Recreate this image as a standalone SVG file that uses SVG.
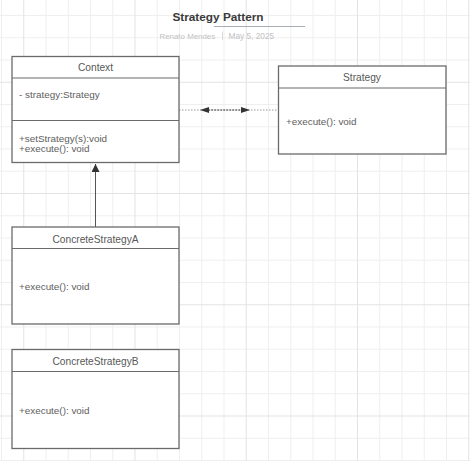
<svg xmlns="http://www.w3.org/2000/svg" width="470" height="461" viewBox="0 0 470 461">
<defs>
<style>
.grid{stroke:#efefef;stroke-width:1;fill:none}
.gridM{stroke:#e3e3e3;stroke-width:1;fill:none}
.box{fill:#fff;stroke:#6b6b6b;stroke-width:1.3}
.div{stroke:#6b6b6b;stroke-width:1.2}
.ttl{font-family:"Liberation Sans",Arial,sans-serif;font-size:10.2px;fill:#585858;text-anchor:middle}
.mem{font-family:"Liberation Sans",Arial,sans-serif;font-size:9.9px;fill:#5e5e5e}
.conn{stroke:#555;stroke-width:1;fill:none}
</style>
<marker id="tri" viewBox="0 0 10 10" refX="10" refY="5" markerWidth="8" markerHeight="8" markerUnits="userSpaceOnUse" orient="auto">
<path d="M0,0 L10,5 L0,10 Z" fill="#333"/>
</marker>
</defs>
<rect width="470" height="461" fill="#fff"/>
<g id="grid">
<path class="grid" d="M1.5,0V461M46,0V461M68.25,0V461M90.5,0V461M112.75,0V461M157.25,0V461M179.5,0V461M201.75,0V461M224,0V461M268.5,0V461M290.75,0V461M313,0V461M335.25,0V461M379.75,0V461M402,0V461M424.25,0V461M446.5,0V461M0,15.5H470M0,37.75H470M0,60H470M0,104.5H470M0,126.75H470M0,149H470M0,171.25H470M0,215.75H470M0,238H470M0,260.25H470M0,282.5H470M0,327H470M0,349.25H470M0,371.5H470M0,393.75H470M0,438.25H470M0,460.5H470"/>
<path class="gridM" d="M23.75,0V461M135,0V461M246.25,0V461M357.5,0V461M468.75,0V461M0,82.25H470M0,193.5H470M0,304.75H470M0,416H470"/>
</g>
<g id="title">
<text x="218" y="21" font-family="'Liberation Sans',Arial,sans-serif" font-size="11.8" font-weight="bold" fill="#3a3a3a" text-anchor="middle">Strategy Pattern</text>
<line x1="214" y1="26.5" x2="305" y2="26.5" stroke="#a8acb4" stroke-width="1"/>
<text x="159.5" y="38.5" font-family="'Liberation Sans',Arial,sans-serif" font-size="7.9" fill="#c2c2c2">Renato Mendes</text>
<line x1="222.5" y1="31.5" x2="222.5" y2="40" stroke="#d0d0d0" stroke-width="0.8"/>
<text x="228.5" y="38.5" font-family="'Liberation Sans',Arial,sans-serif" font-size="8.3" fill="#c2c2c2">May 5, 2025</text>
</g>
<g id="connectors">
<line x1="179" y1="110" x2="278" y2="110" stroke="#999" stroke-width="1" stroke-dasharray="1.5,1.5"/>
<line x1="208" y1="110" x2="242" y2="110" stroke="#555" stroke-width="1" stroke-dasharray="2,1"/>
<path d="M200,110 L209,107 L209,113 Z" fill="#333"/>
<path d="M250,110 L241,107 L241,113 Z" fill="#333"/>
<line class="conn" x1="95.5" y1="227" x2="95.5" y2="164" marker-end="url(#tri)"/>
</g>
<g id="Context">
<rect class="box" x="12" y="56.5" width="167" height="106"/>
<line class="div" x1="12" y1="78" x2="179" y2="78"/>
<line class="div" x1="12" y1="120.5" x2="179" y2="120.5"/>
<text class="ttl" x="95.5" y="71">Context</text>
<text class="mem" x="19" y="97.5">- strategy:Strategy</text>
<text class="mem" x="19" y="141.5">+setStrategy(s):void</text>
<text class="mem" x="19" y="152">+execute(): void</text>
</g>
<g id="Strategy">
<rect class="box" x="278.5" y="66" width="167.5" height="88"/>
<line class="div" x1="278.5" y1="88" x2="446" y2="88"/>
<text class="ttl" x="362" y="80.5">Strategy</text>
<text class="mem" x="286" y="124.5">+execute(): void</text>
</g>
<g id="ConcreteStrategyA">
<rect class="box" x="12" y="227" width="167" height="97"/>
<line class="div" x1="12" y1="248.5" x2="179" y2="248.5"/>
<text class="ttl" x="95.5" y="242.5">ConcreteStrategyA</text>
<text class="mem" x="19" y="289.5">+execute(): void</text>
</g>
<g id="ConcreteStrategyB">
<rect class="box" x="12" y="349.5" width="167" height="99"/>
<line class="div" x1="12" y1="371.5" x2="179" y2="371.5"/>
<text class="ttl" x="95.5" y="364.5">ConcreteStrategyB</text>
<text class="mem" x="19" y="413.5">+execute(): void</text>
</g>
</svg>
